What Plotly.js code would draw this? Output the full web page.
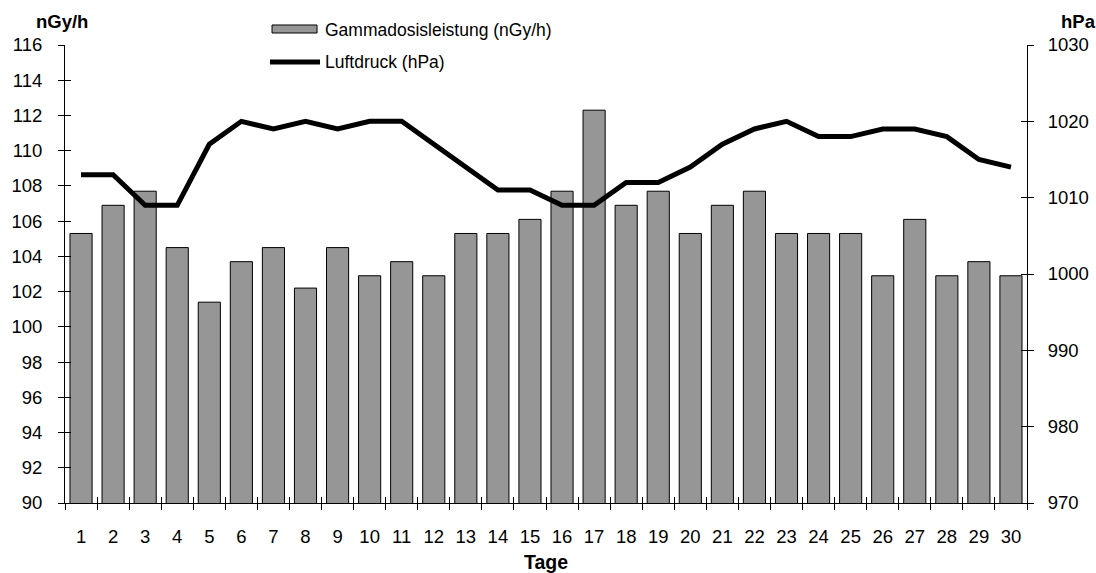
<!DOCTYPE html>
<html><head><meta charset="utf-8">
<script src="https://cdn.plot.ly/plotly-3.0.1.min.js"></script>
<style>html,body{margin:0;padding:0;background:#fff}#c{width:1096px;height:573px}</style>
</head><body><div id="c"></div>
<script>
const days = ['1','2','3','4','5','6','7','8','9','10','11','12','13','14','15','16','17','18','19','20','21','22','23','24','25','26','27','28','29','30'];
const gamma = [105.3,106.9,107.7,104.5,101.4,103.7,104.5,102.2,104.5,102.9,103.7,102.9,105.3,105.3,106.1,107.7,112.3,106.9,107.7,105.3,106.9,107.7,105.3,105.3,105.3,102.9,106.1,102.9,103.7,102.9];
const pressure = [1013,1013,1009,1009,1017,1020,1019,1020,1019,1020,1020,1017,1014,1011,1011,1009,1009,1012,1012,1014,1017,1019,1020,1018,1018,1019,1019,1018,1015,1014];
const leftTicks = [90,92,94,96,98,100,102,104,106,108,110,112,114,116];
const rightTicks = [970,980,990,1000,1010,1020,1030];
const seriesNames = ['Gammadosisleistung (nGy/h)','Luftdruck (hPa)'];

const F = 'Liberation Sans, Arial, sans-serif';
const TS = 18.5;
const xr = [-0.5, days.length - 0.5];
const traces = [
  {type:'bar', x:days, y:gamma, name:seriesNames[0], showlegend:false,
   marker:{color:'#969696', line:{color:'#000', width:1}}, xaxis:'x', yaxis:'y'},
  {type:'scatter', mode:'lines', x:days, y:pressure, name:seriesNames[1], showlegend:false,
   line:{color:'#000', width:5}, xaxis:'x', yaxis:'y2'},
  // invisible helpers so the overlay axes (inside half of crossing ticks) are drawn
  {type:'scatter', mode:'lines', x:days, y:gamma, line:{width:0}, opacity:0, showlegend:false, hoverinfo:'skip', xaxis:'x2', yaxis:'y3'},
  {type:'scatter', mode:'lines', x:days, y:pressure, line:{width:0}, opacity:0, showlegend:false, hoverinfo:'skip', xaxis:'x', yaxis:'y4'}
];
const axBase = {showgrid:false, zeroline:false, tickcolor:'#000', ticklen:6, tickwidth:1};
const layout = {
  width:1096, height:573,
  margin:{l:65, r:69, t:45, b:70},
  paper_bgcolor:'#fff', plot_bgcolor:'#fff',
  font:{family:F, size:TS, color:'#000'},
  bargap:0.31,
  showlegend:false,
  xaxis:Object.assign({}, axBase, {type:'category', range:xr, tickson:'boundaries', ticks:'outside',
         showline:true, linecolor:'#000', linewidth:1,
         ticklabelstandoff:17, tickfont:{size:TS},
         title:{text:'<b>Tage</b>', font:{size:19.5}, standoff:12}}),
  xaxis2:Object.assign({}, axBase, {type:'category', range:xr, overlaying:'x', anchor:'y', side:'bottom',
         tickson:'boundaries', ticks:'inside', ticklen:6, showticklabels:false, showline:false}),
  yaxis:Object.assign({}, axBase, {range:[90,116], tickvals:leftTicks, ticks:'outside',
         showline:true, linecolor:'#000', linewidth:1, ticklabelstandoff:12, tickfont:{size:TS}}),
  yaxis3:Object.assign({}, axBase, {range:[90,116], tickvals:leftTicks, ticks:'inside', overlaying:'y',
         side:'left', anchor:'x', showticklabels:false, showline:false}),
  yaxis2:Object.assign({}, axBase, {range:[970,1030], tickvals:rightTicks, overlaying:'y', side:'right',
         anchor:'x', ticks:'outside', showline:true, linecolor:'#000', linewidth:1,
         ticklabelstandoff:10, tickfont:{size:TS}}),
  yaxis4:Object.assign({}, axBase, {range:[970,1030], tickvals:rightTicks, overlaying:'y', side:'right',
         anchor:'x', ticks:'inside', showticklabels:false, showline:false}),
  shapes:[
    {type:'rect', xref:'paper', yref:'paper', x0:0.2152, x1:0.262, y0:1.0262, y1:1.0437,
     fillcolor:'#969696', line:{color:'#000', width:1}},
    {type:'line', xref:'paper', yref:'paper', x0:0.2131, x1:0.2651, y0:0.963, y1:0.963,
     line:{color:'#000', width:5}}
  ],
  annotations:[
    {text:seriesNames[0], xref:'paper', yref:'paper', x:0.268, y:1.0328, xanchor:'left', yanchor:'middle', showarrow:false, font:{size:17.5}},
    {text:seriesNames[1], xref:'paper', yref:'paper', x:0.268, y:0.963, xanchor:'left', yanchor:'middle', showarrow:false, font:{size:17.5}},
    {text:'<b>nGy/h</b>', xref:'paper', yref:'paper', x:-0.003, y:1.052, xanchor:'center', yanchor:'middle', showarrow:false, font:{size:TS}},
    {text:'<b>hPa</b>', xref:'paper', yref:'paper', x:1.033, y:1.052, xanchor:'left', yanchor:'middle', showarrow:false, font:{size:TS}}
  ]
};
Plotly.newPlot('c', traces, layout, {displayModeBar:false, staticPlot:true});
</script></body></html>
